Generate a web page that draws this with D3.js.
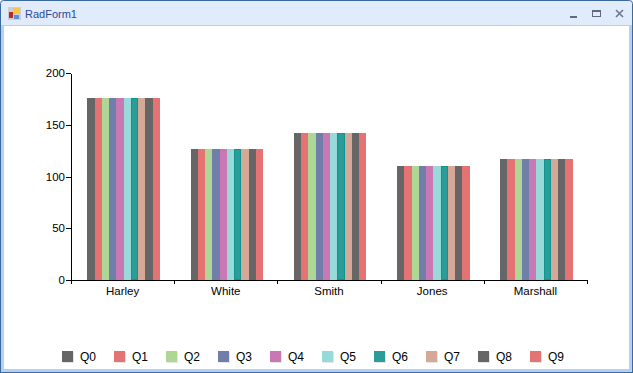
<!DOCTYPE html>
<html>
<head>
<meta charset="utf-8">
<script src="https://cdn.jsdelivr.net/npm/d3@7"></script>
<style>
  html, body { margin: 0; padding: 0; background: #fff; }
  svg { display: block; }
  text { font-family: "Liberation Sans", sans-serif; font-size: 12px; fill: #000; }
  .domain, .tick line { stroke: #000; shape-rendering: crispEdges; }
</style>
</head>
<body>
<div id="wrapper"></div>
<script>
// chart data
const categories = ["Harley", "White", "Smith", "Jones", "Marshall"]
const seriesNames = ["Q0", "Q1", "Q2", "Q3", "Q4", "Q5", "Q6", "Q7", "Q8", "Q9"]
const q0 = [176, 127, 142, 110, 117]
const q1 = [176, 127, 142, 110, 117]
const q2 = [176, 127, 142, 110, 117]
const q3 = [176, 127, 142, 110, 117]
const q4 = [176, 127, 142, 110, 117]
const q5 = [176, 127, 142, 110, 117]
const q6 = [176, 127, 142, 110, 117]
const q7 = [176, 127, 142, 110, 117]
const q8 = [176, 127, 142, 110, 117]
const q9 = [176, 127, 142, 110, 117]
const seriesValues = [q0, q1, q2, q3, q4, q5, q6, q7, q8, q9]
const yTicks = [0, 50, 100, 150, 200]
const seriesColors = ["#666666", "#e57373", "#aed694", "#6f7faa", "#c978b4", "#98d9d9", "#2a9d99", "#d6a898", "#666666", "#e57373"]
const outlinedSeries = "Q6" // this one has a darker edge in the original

const dimensions = {
  width: 633,
  height: 373,
  plotLeft: 71,
  plotRight: 587,
  plotTop: 73,
  plotBottom: 280,
}

const wrapper = d3.select("#wrapper")
  .append("svg")
  .attr("width", dimensions.width)
  .attr("height", dimensions.height)

/* window frame around the chart */
const defs = wrapper.append("defs")
const titleGradient = defs.append("linearGradient")
  .attr("id", "titleGradient")
  .attr("x1", 0).attr("x2", 0).attr("y1", 0).attr("y2", 1)
titleGradient.append("stop").attr("offset", "0%").attr("stop-color", "#e2ecfb")
titleGradient.append("stop").attr("offset", "100%").attr("stop-color", "#bcd3f6")

wrapper.append("rect")
  .attr("x", 0.5).attr("y", 0.5)
  .attr("width", 632).attr("height", 372)
  .attr("rx", 3)
  .attr("fill", "url(#titleGradient)")
  .attr("stroke", "#3b6a9e")
wrapper.append("rect")
  .attr("x", 1).attr("y", 25)
  .attr("width", 631).attr("height", 347)
  .attr("fill", "#b5d0f6")
wrapper.append("rect")
  .attr("x", 0).attr("y", 372)
  .attr("width", 633).attr("height", 1)
  .attr("fill", "#3b6a9e")
wrapper.append("rect")
  .attr("x", 0).attr("y", 25)
  .attr("width", 1).attr("height", 348)
  .attr("fill", "#3b6a9e")
wrapper.append("rect")
  .attr("x", 632).attr("y", 25)
  .attr("width", 1).attr("height", 348)
  .attr("fill", "#3b6a9e")
wrapper.append("rect")
  .attr("x", 4).attr("y", 26)
  .attr("width", 625).attr("height", 343)
  .attr("fill", "#fff")

// little form icon
const icon = wrapper.append("g").attr("transform", "translate(8,7)").style("shape-rendering", "crispEdges")
icon.append("rect").attr("width", 13).attr("height", 13).attr("fill", "#c9ced8")
icon.append("rect").attr("x", 5).attr("y", 1).attr("width", 7).attr("height", 6).attr("fill", "#f6c83c")
icon.append("rect").attr("x", 1).attr("y", 5).attr("width", 4).attr("height", 6).attr("fill", "#c0281c")
icon.append("rect").attr("x", 6).attr("y", 8).attr("width", 5).attr("height", 4).attr("fill", "#5a8ed8")

wrapper.append("text")
  .attr("x", 25).attr("y", 18)
  .style("font-size", "11px")
  .style("fill", "#2a4a9a")
  .text("RadForm1")

// min, max, close buttons
const buttons = wrapper.append("g").style("shape-rendering", "crispEdges")
buttons.append("rect").attr("x", 570).attr("y", 16).attr("width", 7).attr("height", 2).attr("fill", "#5d6b80")
buttons.append("rect").attr("x", 592.5).attr("y", 10.5).attr("width", 8).attr("height", 6).attr("fill", "none").attr("stroke", "#5d6b80")
buttons.append("rect").attr("x", 592).attr("y", 10).attr("width", 9).attr("height", 2).attr("fill", "#5d6b80")
wrapper.append("path")
  .attr("d", "M616,10L623,17M623,10L616,17")
  .attr("stroke", "#6b7a90")
  .attr("stroke-width", 1.6)

/* scales */
const xScale = d3.scaleBand()
  .domain(categories)
  .range([dimensions.plotLeft, dimensions.plotRight])

const xTickScale = d3.scaleLinear()
  .domain([0, categories.length])
  .range([dimensions.plotLeft, dimensions.plotRight])

// inside each category the bars only take the middle part of the band
const seriesScale = d3.scaleBand()
  .domain(seriesNames)
  .range([16.4, 88.9])

const yScale = d3.scaleLinear()
  .domain([0, 200])
  .range([dimensions.plotBottom, dimensions.plotTop])

const colorScale = d3.scaleOrdinal()
  .domain(seriesNames)
  .range(seriesColors)

/* bars */
const bounds = wrapper.append("g")

seriesNames.forEach(function(name, s) {
  const bars = bounds.append("g")
    .selectAll("rect")
    .data(seriesValues[s])
    .join("rect")
    .attr("x", function(d, i) {
      return Math.round(xScale(categories[i]) + seriesScale(name))
    })
    .attr("width", function(d, i) {
      const left = xScale(categories[i]) + seriesScale(name)
      return Math.round(left + seriesScale.bandwidth()) - Math.round(left)
    })
    .attr("y", function(d) { return Math.round(yScale(d)) })
    .attr("height", function(d) { return dimensions.plotBottom - Math.round(yScale(d)) })
    .attr("fill", colorScale(name))
    .style("shape-rendering", "crispEdges")

  if (name === outlinedSeries) {
    bars.attr("stroke", "#0e958f")
      .attr("x", function(d, i) {
        return Math.round(xScale(categories[i]) + seriesScale(name)) + 0.5
      })
      .attr("width", function(d, i) {
        const left = xScale(categories[i]) + seriesScale(name)
        return Math.round(left + seriesScale.bandwidth()) - Math.round(left) - 1
      })
      .attr("y", function(d) { return Math.round(yScale(d)) + 0.5 })
      .attr("height", function(d) { return dimensions.plotBottom - Math.round(yScale(d)) - 1 })
  }
})

/* axes */
const yAxis = d3.axisLeft(yScale)
  .tickValues(yTicks)
  .tickSize(5)
  .tickSizeOuter(0)
  .tickPadding(1)
bounds.append("g")
  .attr("transform", `translate(${dimensions.plotLeft},0)`)
  .call(yAxis)
  .call(function(g) { g.selectAll("text").style("font-family", "Liberation Sans").style("font-size", "11.5px") })

// the ticks sit between the categories, so they get their own axis
const xTickAxis = d3.axisBottom(xTickScale)
  .ticks(categories.length)
  .tickSize(4)
  .tickSizeOuter(0)
  .tickFormat("")
bounds.append("g")
  .attr("transform", `translate(0,${dimensions.plotBottom})`)
  .call(xTickAxis)

const xLabelAxis = d3.axisBottom(xScale)
  .tickSize(0)
  .tickPadding(7)
bounds.append("g")
  .attr("transform", `translate(0,${dimensions.plotBottom})`)
  .call(xLabelAxis)
  .call(function(g) {
    g.select(".domain").remove()
    g.selectAll("text").style("font-family", "Liberation Sans").style("font-size", "11.5px")
  })

/* legend */
const legend = wrapper.append("g")
  .selectAll("g")
  .data(seriesNames)
  .join("g")
  .attr("transform", function(d, i) { return `translate(${62 + i * 52},351)` })

legend.append("rect")
  .attr("x", 1).attr("y", 1)
  .attr("width", 11).attr("height", 11)
  .attr("fill", "#e4e4e4")
legend.append("rect")
  .attr("width", 11).attr("height", 11)
  .attr("fill", function(d) { return colorScale(d) })
legend.append("text")
  .attr("x", 18).attr("y", 10)
  .text(function(d) { return d })
</script>
</body>
</html>
